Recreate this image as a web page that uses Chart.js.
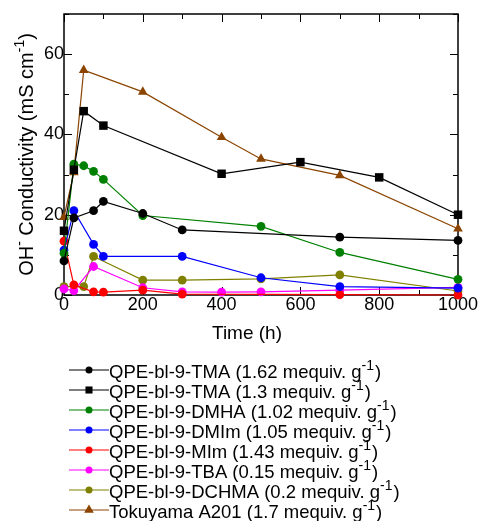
<!DOCTYPE html>
<html>
<head>
<meta charset="utf-8">
<script src="https://cdn.jsdelivr.net/npm/chart.js@4.4.0/dist/chart.umd.min.js"></script>
<style>
    html, body { margin: 0; padding: 0; background: #fff; }
</style>
</head>
<body>
<canvas id="chart" width="479" height="521"></canvas>
<script>
// data, time in h, conductivity in mS/cm
var tma162Time = [0, 25, 75, 100, 200, 300, 700, 1000];
var tma162Cond = [8.5, 19.2, 21, 23.3, 20.3, 16.2, 14.4, 13.6];

var tma13Time = [0, 25, 50, 100, 400, 600, 800, 1000];
var tma13Cond = [16, 31.2, 45.8, 42.2, 30.2, 33.1, 29.3, 20];

var dmhaTime = [0, 25, 50, 75, 100, 200, 500, 700, 1000];
var dmhaCond = [10.4, 32.6, 32.2, 30.8, 28.8, 19.8, 17.1, 10.6, 3.9];

var dmimTime = [0, 25, 75, 100, 300, 500, 700, 1000];
var dmimCond = [11.2, 21, 12.6, 9.6, 9.6, 4.3, 2.1, 1.7];

var mimTime = [0, 25, 75, 100, 200, 300, 700, 1000];
var mimCond = [13.4, 2.5, 0.8, 0.7, 1.2, 0.2, 0.1, 0];

var tbaTime = [0, 25, 75, 200, 300, 400, 500, 700, 1000];
var tbaCond = [1.5, 1.1, 7.1, 1.8, 0.8, 0.7, 0.8, 1.2, 1.9];

var dchmaTime = [0, 50, 75, 200, 300, 500, 700, 1000];
var dchmaCond = [2.1, 2.1, 9.6, 3.7, 3.7, 4, 5, 1];

var a201Time = [0, 25, 50, 200, 400, 500, 700, 1000];
var a201Cond = [19.4, 30.5, 56, 50.6, 39.3, 33.9, 29.8, 16.5];

var seriesNames = ['QPE-bl-9-TMA', 'QPE-bl-9-TMA', 'QPE-bl-9-DMHA', 'QPE-bl-9-DMIm',
    'QPE-bl-9-MIm', 'QPE-bl-9-TBA', 'QPE-bl-9-DCHMA', 'Tokuyama A201'];
var seriesIec = ['1.62', '1.3', '1.02', '1.05', '1.43', '0.15', '0.2', '1.7'];
var seriesColors = ['#000000', '#000000', '#008000', '#0000ff', '#ff0000', '#ff00ff', '#808000', '#8b4500'];
var seriesMarkers = ['circle', 'rect', 'circle', 'circle', 'circle', 'circle', 'circle', 'triangle'];

var xTicks = [0, 200, 400, 600, 800, 1000];
var yTicks = [0, 20, 40, 60];

var seriesTimes = [tma162Time, tma13Time, dmhaTime, dmimTime, mimTime, tbaTime, dchmaTime, a201Time];
var seriesConds = [tma162Cond, tma13Cond, dmhaCond, dmimCond, mimCond, tbaCond, dchmaCond, a201Cond];

var FONT = 'Liberation Sans, Arial, Helvetica, sans-serif';
Chart.defaults.font.family = FONT;
Chart.defaults.font.size = 18;
Chart.defaults.color = '#000';

function markerRadius(style) {
    if (style === 'rect') return 6;
    if (style === 'triangle') return 5.6;
    return 4.4;
}

var datasets = seriesNames.map(function (name, i) {
    return {
        label: name + ' (' + seriesIec[i] + ' mequiv. g\u207B\u00B9)',
        data: seriesTimes[i].map(function (t, k) { return {x: t, y: seriesConds[i][k]}; }),
        borderColor: seriesColors[i],
        backgroundColor: seriesColors[i],
        borderWidth: 1.2,
        pointStyle: seriesMarkers[i],
        pointRadius: markerRadius(seriesMarkers[i]),
        pointBorderWidth: 0,
        pointHoverRadius: markerRadius(seriesMarkers[i]),
        tension: 0,
        clip: false
    };
});

function drawMarker(ctx, style, x, y, r, color) {
    ctx.fillStyle = color;
    ctx.beginPath();
    if (style === 'rect') {
        var s = r * Math.SQRT1_2;
        ctx.rect(x - s, y - s, 2 * s, 2 * s);
    } else if (style === 'triangle') {
        for (var k = 0; k < 3; k++) {
            var ang = -Math.PI / 2 + k * 2 * Math.PI / 3;
            var px = x + Math.cos(ang) * r, py = y + Math.sin(ang) * r;
            if (k === 0) ctx.moveTo(px, py); else ctx.lineTo(px, py);
        }
        ctx.closePath();
    } else {
        ctx.arc(x, y, r, 0, Math.PI * 2);
    }
    ctx.fill();
}

// text with a raised small part, e.g. g^-1
function drawParts(ctx, parts, x, y, size, supSize, rise) {
    parts.forEach(function (p) {
        ctx.font = (p.sup ? supSize : size) + 'px ' + FONT;
        ctx.fillText(p.t, x, p.sup ? y - rise : y);
        x += ctx.measureText(p.t).width + (p.shift || 0);
    });
    return x;
}

function partsWidth(ctx, parts, size, supSize) {
    var w = 0;
    parts.forEach(function (p) {
        ctx.font = (p.sup ? supSize : size) + 'px ' + FONT;
        w += ctx.measureText(p.t).width + (p.shift || 0);
    });
    return w;
}

var framePlugin = {
    id: 'framePlugin',
    beforeDatasetsDraw: function (chart) {
        var ctx = chart.ctx, a = chart.chartArea;
        var xs = chart.scales.x, ys = chart.scales.y;
        ctx.save();
        ctx.strokeStyle = '#000';
        ctx.lineWidth = 1;
        ctx.beginPath();
        for (var t = 0; t <= 1000; t += 100) {
            var px = Math.round(xs.getPixelForValue(t)) + 0.5;
            var len = t % 200 === 0 ? 8 : 5;
            ctx.moveTo(px, a.bottom); ctx.lineTo(px, a.bottom - len);
            ctx.moveTo(px, a.top); ctx.lineTo(px, a.top + len);
        }
        for (var v = 0; v <= 70; v += 10) {
            var py = Math.round(ys.getPixelForValue(v)) + 0.5;
            var l2 = v % 20 === 0 ? 8 : 5;
            ctx.moveTo(a.left, py); ctx.lineTo(a.left + l2, py);
            ctx.moveTo(a.right, py); ctx.lineTo(a.right - l2, py);
        }
        ctx.stroke();
        ctx.lineWidth = 1.5;
        ctx.strokeRect(a.left, a.top, a.right - a.left, a.bottom - a.top);
        ctx.restore();
    },
    afterDraw: function (chart) {
        var ctx = chart.ctx, a = chart.chartArea;
        ctx.save();
        ctx.fillStyle = '#000';
        ctx.textBaseline = 'alphabetic';
        ctx.textAlign = 'left';

        // x axis title
        var xTitle = [{t: 'Time (h)'}];
        drawParts(ctx, xTitle, 247 - partsWidth(ctx, xTitle, 19, 14) / 2, 339, 19, 14, 0);

        // y axis title, rotated
        var yTitle = [{t: 'OH'}, {t: '-', sup: true}, {t: ' Conductivity (mS cm'}, {t: '-1', sup: true}, {t: ')'}];
        ctx.translate(33, (a.top + a.bottom) / 2);
        ctx.rotate(-Math.PI / 2);
        drawParts(ctx, yTitle, -partsWidth(ctx, yTitle, 20, 14) / 2, 0, 20, 14, 9);
        ctx.setTransform(1, 0, 0, 1, 0, 0);

        // legend
        seriesNames.forEach(function (name, i) {
            var cy = 370 + i * 20;
            ctx.strokeStyle = seriesColors[i];
            ctx.lineWidth = 1.2;
            ctx.beginPath();
            ctx.moveTo(69, cy); ctx.lineTo(109, cy);
            ctx.stroke();
            drawMarker(ctx, seriesMarkers[i], 89, cy, seriesMarkers[i] === 'rect' ? 5 : (seriesMarkers[i] === 'triangle' ? 5.6 : 3.5), seriesColors[i]);
            ctx.fillStyle = '#000';
            drawParts(ctx, [
                {t: name + ' (' + seriesIec[i] + ' mequiv. g'},
                {t: '-1', sup: true, shift: 1},
                {t: ')'}
            ], 109, cy + 8, 18.5, 14, 8);
        });
        ctx.restore();
    }
};

new Chart(document.getElementById('chart'), {
    type: 'scatter',
    data: {datasets: datasets},
    options: {
        responsive: false,
        animation: false,
        showLine: true,
        layout: {padding: {top: 14, right: 21, left: 0, bottom: 176}},
        plugins: {legend: {display: false}, tooltip: {enabled: false}},
        events: [],
        scales: {
            x: {
                type: 'linear',
                min: 0,
                max: 1000,
                border: {display: false},
                grid: {display: false, drawTicks: false},
                afterBuildTicks: function (s) { s.ticks = xTicks.map(function (v) { return {value: v}; }); },
                ticks: {padding: -1, maxRotation: 0, autoSkip: false, color: '#000', font: {size: 18},
                    callback: function (v) { return String(v); }},
                afterFit: function (s) { s.height = 50; }
            },
            y: {
                type: 'linear',
                min: 0,
                max: 70,
                border: {display: false},
                grid: {display: false, drawTicks: false},
                afterBuildTicks: function (s) { s.ticks = yTicks.map(function (v) { return {value: v}; }); },
                ticks: {padding: 0, color: '#000', font: {size: 18},
                    callback: function (v) { return String(v); }},
                afterFit: function (s) { s.width = 64; }
            }
        }
    },
    plugins: [framePlugin]
});
</script>
</body>
</html>
